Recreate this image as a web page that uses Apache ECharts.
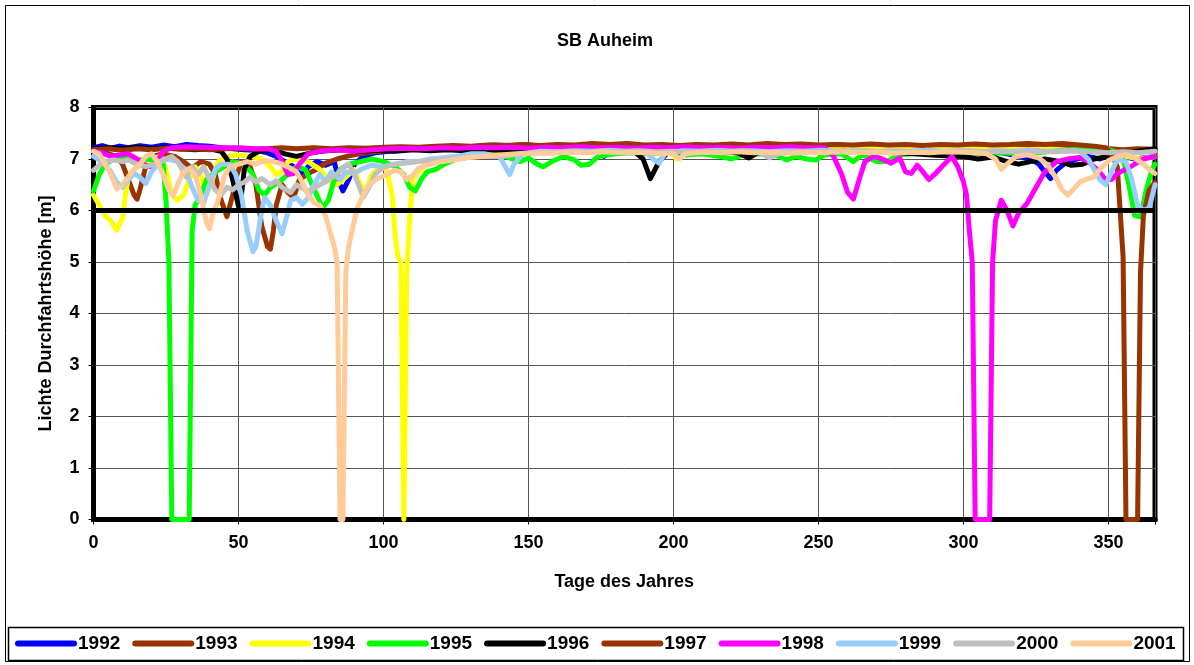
<!DOCTYPE html>
<html><head><meta charset="utf-8">
<script src="https://cdn.jsdelivr.net/npm/echarts@6/dist/echarts.min.js"></script>
<style>html,body{margin:0;padding:0;background:#fff}#c{width:1194px;height:665px}</style>
</head><body><div id="c"></div>
<script>
const years = ['1992','1993','1994','1995','1996','1997','1998','1999','2000','2001'];
const colors = ['#0000FF','#993300','#FFFF00','#00FF00','#000000','#993300','#FF00FF','#99CCFF','#C0C0C0','#FFCC99'];
const xTicks = [0,50,100,150,200,250,300,350];
const yTicks = [0,1,2,3,4,5,6,7,8];

const s1992 = [[0,7.22],[3,7.26],[6,7.21],[9,7.25],[12,7.22],[16,7.26],[20,7.23],[24,7.27],[28,7.24],[32,7.28],[36,7.26],[40,7.25],[44,7.22],[48,7.2],[52,7.18],[56,7.17],[60,7.12],[63,7.05],[66,6.95],[69,6.85],[72,6.68],[74,6.85],[77,6.95],[80,6.88],[83,6.95],[85,6.5],[86,6.38],[88,6.6],[90,6.9],[93,7.05],[97,7.12],[102,7.15],[108,7.18],[114,7.2],[120,7.22],[126,7.24],[132,7.25],[138,7.27],[144,7.26],[150,7.27],[156,7.24],[162,7.26],[168,7.23],[173,7.2],[176,7.05],[179,7.2],[184,7.24],[190,7.22],[196,7.25],[202,7.23],[208,7.26],[214,7.24],[220,7.27],[226,7.25],[232,7.28],[238,7.25],[244,7.27],[250,7.24],[256,7.28],[262,7.25],[268,7.27],[274,7.24],[280,7.26],[286,7.24],[292,7.25],[298,7.22],[304,7.2],[310,7.15],[315,7.1],[319,7.05],[323,7.0],[326,6.9],[328,6.75],[330,6.62],[332,6.78],[335,6.92],[339,7.0],[343,7.05],[347,7.0],[351,7.08],[355,7.05],[359,7.0],[362,7.02],[366,7.05]];
const s1993 = [[0,7.15],[4,7.12],[8,7.05],[10,6.9],[12,6.6],[14,6.3],[15,6.22],[16,6.4],[18,6.85],[20,7.05],[24,7.1],[28,7.05],[31,6.95],[34,6.82],[37,6.95],[40,6.9],[42,6.7],[44,6.2],[46,5.88],[48,6.3],[49.5,6.7],[51,6.95],[54,6.85],[56,6.5],[58,5.7],[60,5.3],[61,5.25],[62,5.6],[63,6.1],[65,6.5],[67,6.35],[69,6.25],[71,6.6],[74,6.72],[77,6.8],[80,6.92],[84,7.0],[88,7.06],[92,7.1],[97,7.14],[103,7.17],[110,7.2],[117,7.18],[124,7.21],[131,7.19],[138,7.22],[145,7.2],[152,7.23],[159,7.2],[166,7.22],[173,7.19],[180,7.22],[187,7.2],[194,7.21],[201,7.18],[208,7.21],[215,7.19],[222,7.22],[229,7.2],[236,7.23],[243,7.2],[250,7.22],[257,7.19],[264,7.21],[271,7.2],[278,7.22],[285,7.19],[292,7.21],[299,7.2],[306,7.22],[313,7.19],[320,7.21],[327,7.2],[334,7.22],[341,7.2],[348,7.21],[355,7.18],[360,7.2],[366,7.19]];
const s1994 = [[0,6.3],[2,6.1],[4,5.9],[6,5.8],[8,5.62],[10,5.85],[11,6.3],[12,6.65],[14,6.8],[17,6.9],[20,7.0],[23,7.05],[25,6.8],[27,6.3],[29,6.2],[31,6.3],[33,6.6],[35,6.85],[37,6.7],[39,6.3],[41,6.6],[43,6.95],[46,7.05],[50,7.08],[54,7.05],[58,7.0],[61,6.85],[63,6.7],[65,6.75],[67,6.95],[70,7.0],[74,6.95],[78,6.8],[81,6.6],[84,6.5],[87,6.65],[90,6.8],[92,6.5],[94,6.4],[96,6.7],[99,6.85],[101,6.8],[103,6.3],[104,5.5],[105,5.1],[106,5.0],[107,0],[108,4.8],[109,5.8],[110,6.6],[112,6.75],[115,6.9],[120,7.0],[125,7.05],[130,7.1],[137,7.14],[144,7.17],[151,7.2],[158,7.18],[165,7.21],[172,7.19],[179,7.22],[186,7.2],[193,7.21],[199,7.15],[201,7.0],[203,7.15],[210,7.2],[217,7.22],[224,7.2],[231,7.23],[238,7.21],[245,7.22],[252,7.2],[259,7.23],[266,7.21],[273,7.22],[280,7.2],[287,7.22],[294,7.2],[301,7.21],[308,7.19],[315,7.2],[322,7.18],[329,7.2],[336,7.17],[343,7.15],[350,7.1],[356,7.05],[361,7.0],[366,7.05]];
const s1995 = [[0,6.38],[2,6.7],[4,6.9],[7,7.0],[11,7.02],[15,6.98],[19,7.0],[22,6.95],[24,6.9],[25,6.2],[26,5.0],[27,0],[33,0],[34,5.6],[35,6.1],[37,6.3],[39,6.6],[42,6.75],[45,6.85],[48,6.95],[52,6.9],[55,6.7],[57,6.4],[59,6.3],[61,6.45],[64,6.55],[67,6.7],[70,6.85],[73,6.8],[75,6.55],[77,6.3],[79,6.05],[81,6.2],[83,6.6],[85,6.8],[88,6.9],[92,6.95],[96,7.0],[100,6.95],[104,6.85],[107,6.7],[109,6.45],[111,6.38],[113,6.6],[115,6.75],[118,6.8],[121,6.9],[125,7.0],[130,7.05],[136,7.08],[142,7.05],[147,6.95],[150,7.02],[153,6.9],[155,6.85],[158,6.95],[162,7.05],[166,6.98],[168,6.88],[171,6.9],[174,7.05],[180,7.1],[186,7.12],[192,7.1],[198,7.12],[204,7.08],[210,7.1],[216,7.05],[220,7.0],[224,7.08],[230,7.1],[236,7.06],[239,6.98],[242,7.05],[246,7.0],[249,6.98],[252,7.08],[258,7.1],[262,6.95],[265,7.08],[270,6.95],[274,6.95],[277,7.08],[283,7.1],[289,7.12],[295,7.1],[301,7.12],[307,7.1],[313,7.12],[319,7.1],[325,7.12],[331,7.15],[337,7.18],[343,7.2],[348,7.22],[352,7.15],[355,7.0],[357,6.5],[359,5.9],[361,5.88],[363,6.4],[365,6.8],[366,6.9]];
const s1996 = [[0,7.2],[5,7.22],[10,7.2],[15,7.23],[20,7.2],[25,7.22],[30,7.2],[35,7.18],[40,7.2],[44,7.15],[46,7.0],[48,6.6],[50,6.08],[51,6.3],[52,6.8],[54,7.05],[57,7.15],[62,7.18],[66,7.1],[70,7.05],[75,7.12],[80,7.16],[86,7.18],[92,7.15],[98,7.17],[104,7.15],[110,7.18],[116,7.16],[122,7.18],[128,7.16],[134,7.18],[140,7.17],[146,7.16],[152,7.18],[158,7.15],[164,7.17],[170,7.15],[176,7.17],[182,7.16],[187,7.12],[189.5,7.0],[192,6.62],[195,6.95],[198,7.12],[204,7.15],[210,7.13],[216,7.15],[222,7.12],[226,7.02],[229,7.12],[235,7.15],[241,7.13],[247,7.15],[253,7.14],[259,7.15],[265,7.12],[271,7.14],[277,7.12],[283,7.1],[289,7.08],[295,7.06],[300,7.05],[305,7.0],[310,7.04],[315,6.95],[319,6.9],[323,6.95],[328,7.0],[333,6.95],[337,6.88],[341,6.9],[345,7.0],[350,7.05],[355,7.1],[360,7.15],[366,7.2]];
const s1997 = [[0,7.18],[5,7.2],[10,7.17],[15,7.2],[20,7.18],[25,7.21],[30,7.19],[35,7.2],[40,7.18],[45,7.2],[50,7.21],[55,7.19],[60,7.2],[65,7.22],[70,7.2],[76,7.22],[82,7.2],[88,7.22],[94,7.21],[100,7.23],[106,7.24],[112,7.23],[118,7.25],[124,7.26],[130,7.25],[136,7.27],[142,7.26],[148,7.28],[154,7.26],[160,7.28],[166,7.27],[172,7.3],[178,7.28],[184,7.3],[190,7.27],[196,7.28],[202,7.26],[208,7.28],[214,7.27],[220,7.29],[226,7.27],[232,7.3],[238,7.28],[244,7.29],[250,7.27],[256,7.28],[262,7.27],[268,7.29],[274,7.27],[280,7.28],[286,7.26],[292,7.28],[298,7.27],[304,7.29],[310,7.27],[316,7.28],[322,7.3],[328,7.28],[334,7.3],[340,7.27],[345,7.25],[349,7.22],[351,7.1],[353,6.85],[355,5.1],[356,0],[360,0],[361,4.8],[362,5.9],[364,6.4],[366,6.55]];
const s1998 = [[0,7.15],[3,7.12],[6,7.05],[9,7.08],[12,7.1],[15,7.0],[18,6.88],[20,6.85],[22,6.95],[24,7.15],[27,7.22],[32,7.24],[38,7.23],[44,7.22],[50,7.22],[56,7.2],[60,7.2],[63,7.15],[65,6.95],[67,6.7],[69,6.72],[71,6.9],[74,7.1],[78,7.15],[84,7.18],[90,7.15],[96,7.18],[102,7.2],[108,7.21],[114,7.2],[120,7.22],[126,7.21],[132,7.23],[138,7.22],[144,7.23],[150,7.21],[156,7.23],[162,7.22],[168,7.24],[174,7.22],[180,7.23],[186,7.21],[192,7.23],[198,7.22],[204,7.24],[210,7.22],[216,7.23],[222,7.21],[228,7.23],[234,7.22],[240,7.24],[246,7.22],[252,7.22],[255,7.07],[258,6.7],[260,6.35],[262,6.22],[264,6.6],[266,6.95],[269,7.05],[272,7.0],[275,6.92],[278,7.02],[280,6.75],[282,6.72],[284,6.88],[286,6.75],[288,6.6],[290,6.7],[293,6.88],[296,7.05],[298,6.85],[300,6.55],[301,6.3],[302,5.6],[303,5.0],[304,0],[309,0],[310,5.0],[311,5.8],[313,6.2],[315,6.0],[317,5.7],[319,5.95],[322,6.15],[325,6.45],[328,6.75],[332,6.95],[336,7.0],[340,7.03],[343,6.95],[346,6.8],[349,6.6],[351,6.6],[353,6.72],[356,6.8],[359,6.9],[362,7.0],[366,7.05]];
const s1999 = [[0,7.05],[2,6.98],[4,6.9],[6,6.75],[8,6.55],[10,6.45],[12,6.6],[14,6.72],[16,6.65],[18,6.52],[20,6.75],[23,6.95],[26,7.0],[29,6.95],[32,6.75],[34,6.45],[36,6.2],[38,6.15],[40,6.5],[42,6.8],[44,6.9],[47,6.9],[49,6.7],[51,6.3],[53,5.6],[55,5.2],[56,5.3],[58,6.0],[59,6.25],[61,6.1],[63,5.8],[65,5.55],[66,5.75],[68,6.2],[70,6.25],[72,6.12],[74,6.25],[76,6.5],[78,6.7],[80,6.55],[82,6.75],[85,6.6],[87,6.75],[90,6.72],[93,6.82],[96,6.88],[100,6.85],[104,6.9],[108,6.95],[112,6.95],[116,7.0],[120,7.02],[125,7.05],[130,7.1],[135,7.1],[140,7.05],[142,6.85],[143.5,6.7],[145,6.9],[148,7.1],[154,7.15],[160,7.14],[166,7.16],[172,7.15],[178,7.17],[184,7.15],[190,7.15],[193,7.0],[195,6.92],[197,7.1],[203,7.16],[209,7.15],[215,7.17],[221,7.15],[227,7.16],[233,7.14],[239,7.16],[245,7.15],[251,7.17],[257,7.15],[263,7.16],[269,7.14],[275,7.16],[281,7.15],[287,7.17],[293,7.15],[299,7.16],[305,7.14],[311,7.16],[317,7.15],[323,7.17],[329,7.15],[335,7.16],[340,7.15],[343,7.0],[345,6.8],[347,6.6],[349,6.5],[351,6.75],[353,7.0],[356,6.95],[358,6.6],[360,6.1],[362,6.0],[364,6.05],[366,6.5]];
const s2000 = [[0,6.78],[2,6.88],[4,6.95],[7,6.98],[10,6.95],[12,6.98],[15,6.9],[18,6.85],[21,6.9],[24,6.98],[27,7.05],[29,6.95],[31,6.75],[32,6.65],[34,6.85],[36,6.7],[38,6.85],[40,6.6],[42,6.4],[44,6.3],[46,6.45],[48,6.4],[50,6.5],[52,6.55],[54,6.65],[56,6.55],[58,6.62],[61,6.5],[63,6.58],[65,6.45],[68,6.35],[70,6.5],[73,6.4],[75,6.4],[78,6.5],[81,6.6],[84,6.7],[86,6.84],[88,6.9],[90,6.7],[93,6.26],[95,6.45],[97,6.7],[100,6.84],[104,6.9],[108,6.92],[112,6.95],[118,6.98],[125,7.0],[132,7.05],[140,7.05],[148,7.1],[156,7.12],[164,7.15],[170,7.13],[176,7.15],[182,7.14],[188,7.16],[194,7.14],[200,7.15],[206,7.13],[212,7.15],[218,7.14],[224,7.16],[230,7.12],[233,7.02],[236,7.1],[242,7.15],[248,7.13],[254,7.15],[260,7.14],[266,7.16],[272,7.14],[278,7.15],[284,7.13],[290,7.15],[296,7.14],[302,7.16],[308,7.14],[314,7.15],[320,7.13],[326,7.15],[332,7.14],[338,7.16],[344,7.14],[350,7.12],[355,7.14],[360,7.12],[366,7.15]];
const s2001 = [[0,7.15],[2,7.1],[4,6.9],[6,6.7],[8,6.42],[10,6.5],[12,6.65],[14,6.8],[16,6.9],[18,7.05],[20,7.1],[22,6.95],[24,6.7],[26,6.4],[27.5,6.28],[29,6.5],[31,6.75],[33,6.82],[35,6.7],[37,6.3],[39,5.75],[40,5.65],[41,5.9],[43,6.2],[45,6.65],[47,6.85],[50,6.9],[53,6.95],[56,6.9],[59,6.97],[62,6.95],[65,6.9],[68,6.82],[70,6.75],[72,6.55],[74,6.3],[76,6.15],[78,6.1],[80,5.9],[82,5.5],[83,5.3],[84,5.0],[85,0],[86,0],[87,4.8],[88,5.3],[89.5,5.7],[91,6.05],[93,6.3],[95,6.5],[98,6.62],[101,6.7],[104,6.78],[106,6.75],[108,6.6],[110,6.68],[112,6.82],[115,6.88],[119,6.94],[124,6.98],[129,7.03],[134,7.05],[140,7.08],[146,7.1],[152,7.12],[158,7.11],[164,7.13],[170,7.12],[176,7.14],[182,7.12],[188,7.13],[194,7.11],[200,7.1],[202,7.0],[204,7.1],[210,7.13],[216,7.12],[222,7.14],[228,7.12],[234,7.13],[240,7.11],[246,7.13],[252,7.12],[258,7.14],[264,7.12],[270,7.13],[276,7.11],[282,7.13],[288,7.12],[294,7.14],[300,7.13],[305,7.12],[308,7.1],[311,7.0],[313,6.8],[315,6.9],[318,7.05],[322,7.08],[326,7.02],[329,6.88],[332,6.62],[334,6.4],[336,6.3],[338,6.42],[340,6.55],[343,6.62],[345,6.65],[347,6.8],[350,6.97],[353,7.05],[356,7.08],[359,7.02],[362,6.9],[364,6.8],[366,6.72]];

const seriesData = [s1992,s1993,s1994,s1995,s1996,s1997,s1998,s1999,s2000,s2001];
const FONT = "'Liberation Sans', Arial, sans-serif";

const series = years.map((y, i) => ({
  name: y, type: 'line', data: seriesData[i], showSymbol: false, symbol: 'none',
  clip: false, animation: false,
  lineStyle: { color: colors[i], width: 5, cap: 'round', join: 'round' },
  itemStyle: { color: colors[i] }
}));
series[series.length - 1].markLine = {
  silent: true, symbol: ['none', 'none'], animation: false,
  label: { show: false },
  lineStyle: { color: '#000', width: 5, type: 'solid' },
  data: [{ yAxis: 6 }]
};

const chart = echarts.init(document.getElementById('c'));
chart.setOption({
  animation: false,
  backgroundColor: '#fff',
  title: {
    text: 'SB Auheim', left: 600, top: 27, textAlign: 'center',
    textStyle: { fontFamily: FONT, fontWeight: 'bold', fontSize: 18, color: '#000' }
  },
  grid: { left: 93.5, right: 39, top: 107.5, bottom: 145.5, show: true, borderColor: '#000', borderWidth: 5, backgroundColor: 'transparent' },
  legend: {
    data: years, left: 15, top: 634, itemWidth: 62, itemHeight: 6, itemGap: 12, padding: 0,
    icon: 'path://M3,0 L59,0 A3,3 0 0 1 59,6 L3,6 A3,3 0 0 1 3,0 Z',
    textStyle: { fontFamily: FONT, fontWeight: 'bold', fontSize: 19, color: '#000', padding: [0,0,0,-4] }
  },
  xAxis: {
    type: 'value', min: 0, max: 366, interval: 50,
    name: 'Tage des Jahres', nameLocation: 'middle', nameGap: 54,
    nameTextStyle: { fontFamily: FONT, fontWeight: 'bold', fontSize: 18, color: '#000' },
    axisLine: { show: true, lineStyle: { color: '#000', width: 5 } },
    axisTick: { show: true, length: 5, lineStyle: { color: '#000', width: 1 } },
    axisLabel: { fontFamily: FONT, fontWeight: 'bold', fontSize: 18, color: '#000', margin: 15,
      formatter: v => (xTicks.indexOf(v) >= 0 ? String(v) : '') },
    splitLine: { show: true, lineStyle: { color: '#555', width: 1 } }
  },
  yAxis: {
    type: 'value', min: 0, max: 8, interval: 1,
    name: 'Lichte Durchfahrtshöhe [m]', nameLocation: 'middle', nameGap: 38,
    nameTextStyle: { fontFamily: FONT, fontWeight: 'bold', fontSize: 18, color: '#000' },
    axisLine: { show: true, lineStyle: { color: '#000', width: 5 } },
    axisTick: { show: true, length: 5, lineStyle: { color: '#000', width: 1 } },
    axisLabel: { fontFamily: FONT, fontWeight: 'bold', fontSize: 18, color: '#000', margin: 14,
      formatter: v => (yTicks.indexOf(v) >= 0 ? String(v) : '') },
    splitLine: { show: true, lineStyle: { color: '#555', width: 1 } }
  },
  graphic: [
    { type: 'rect', z: -1, shape: { x: 5.5, y: 5.5, width: 1184, height: 656 }, style: { fill: 'none', stroke: '#000', lineWidth: 1 } },
    { type: 'rect', z: -1, shape: { x: 8.5, y: 627.5, width: 1175, height: 33 }, style: { fill: 'none', stroke: '#000', lineWidth: 1.5 } }
  ],
  series: series
});
</script></body></html>
